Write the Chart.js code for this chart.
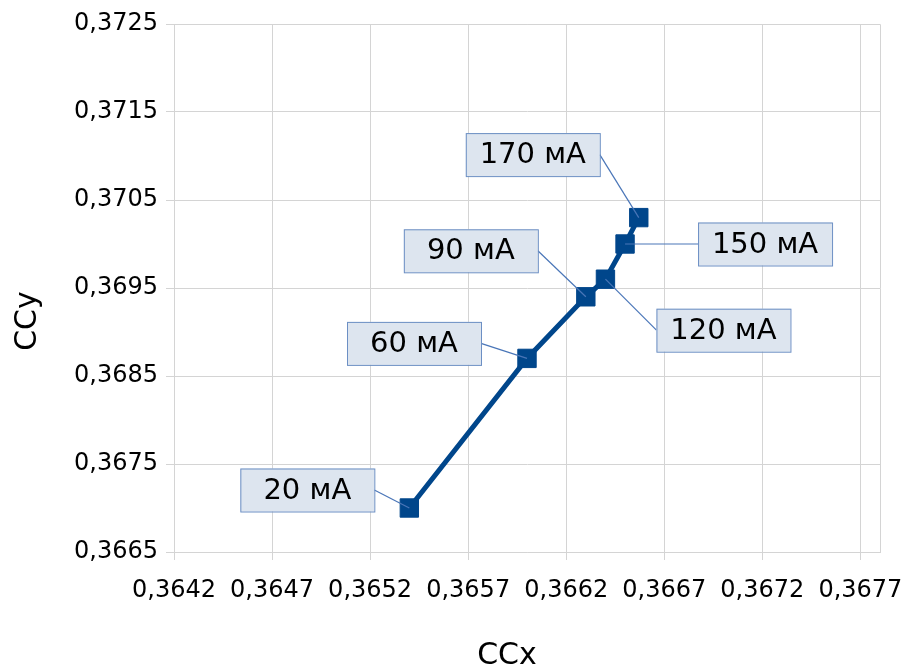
<!DOCTYPE html>
<html>
<head>
<meta charset="utf-8">
<script src="https://cdn.jsdelivr.net/npm/chart.js@4"></script>
<style>
  html, body { margin: 0; padding: 0; background: #ffffff; }
  #wrap { width: 907px; height: 669px; }
</style>
</head>
<body>
<div id="wrap"><canvas id="chart" width="907" height="669"></canvas></div>
<script>
// Données du graphique (coordonnées chromatiques selon le courant)
const currentLabels = ['20 мА', '60 мА', '90 мА', '120 мА', '150 мА', '170 мА'];
const ccxValues = [0.36540, 0.36600, 0.36630, 0.36640, 0.36650, 0.36657];
const ccyValues = [0.36700, 0.36870, 0.36940, 0.36960, 0.37000, 0.37030];
const xTickValues = [0.3642, 0.3647, 0.3652, 0.3657, 0.3662, 0.3667, 0.3672, 0.3677];
const yTickValues = [0.3665, 0.3675, 0.3685, 0.3695, 0.3705, 0.3715, 0.3725];

// Décalage des étiquettes par rapport au point (pixels)
const labelOffsets = [[-102, -18], [-113, -15], [-115, -46], [118, 51], [140, 0], [-106, -63]];

const FONT = "'DejaVu Sans', sans-serif";
const LINE_COLOR = '#00468b';
const GRID_COLOR = '#d4d4d4';

function fmt(v) {
    return v.toFixed(4).replace('.', ',');
}

// Cadre + titres des axes + étiquettes
const decorPlugin = {
    id: 'decor',
    beforeDatasetsDraw(chart) {
        const { ctx, chartArea: a } = chart;
        ctx.save();
        ctx.strokeStyle = GRID_COLOR;
        ctx.lineWidth = 1;
        ctx.beginPath();
        ctx.moveTo(a.left, a.top + 0.5);
        ctx.lineTo(a.right + 0.5, a.top + 0.5);
        ctx.lineTo(a.right + 0.5, a.bottom);
        ctx.stroke();
        ctx.restore();
    },
    afterDatasetsDraw(chart) {
        const { ctx, chartArea: a } = chart;
        const meta = chart.getDatasetMeta(0);
        ctx.save();

        // Titres des axes
        ctx.fillStyle = '#000000';
        ctx.font = '30px ' + FONT;
        ctx.textAlign = 'center';
        ctx.textBaseline = 'middle';
        ctx.fillText('CCx', a.left + 333, 656);
        ctx.save();
        ctx.translate(28, a.top + 297);
        ctx.rotate(-Math.PI / 2);
        ctx.fillText('CCy', 0, 0);
        ctx.restore();

        // Étiquettes avec lignes de rappel
        const w = 134, h = 43;
        ctx.font = '29px ' + FONT;
        meta.data.forEach((pt, i) => {
            const cx = pt.x + labelOffsets[i][0];
            const cy = pt.y + labelOffsets[i][1];
            const left = cx - w / 2, top = cy - h / 2;
            const ax = cx < pt.x ? left + w : left;
            ctx.strokeStyle = '#4a76b8';
            ctx.lineWidth = 1.2;
            ctx.beginPath();
            ctx.moveTo(ax, cy);
            ctx.lineTo(pt.x, pt.y);
            ctx.stroke();
            ctx.fillStyle = '#dde5ef';
            ctx.fillRect(left, top, w, h);
            ctx.lineWidth = 1;
            ctx.strokeStyle = '#6c8fc4';
            ctx.strokeRect(left + 0.5, top + 0.5, w, h);
            ctx.fillStyle = '#000000';
            ctx.fillText(currentLabels[i], cx, cy + 1);
        });
        ctx.restore();
    }
};

const ctx = document.getElementById('chart').getContext('2d');
new Chart(ctx, {
    type: 'scatter',
    data: {
        datasets: [{
            label: 'CC',
            data: ccxValues.map((x, i) => ({ x: x, y: ccyValues[i] })),
            showLine: true,
            borderColor: LINE_COLOR,
            backgroundColor: LINE_COLOR,
            borderWidth: 5,
            pointStyle: 'rect',
            pointRadius: 13,
            pointBorderWidth: 1,
            pointBorderColor: LINE_COLOR,
            pointBackgroundColor: LINE_COLOR
        }]
    },
    options: {
        responsive: false,
        animation: false,
        layout: {
            padding: { top: 24, right: 27, bottom: 0, left: 0 }
        },
        plugins: {
            legend: { display: false },
            tooltip: { enabled: false }
        },
        scales: {
            x: {
                type: 'linear',
                min: 0.3642,
                max: 0.3678,
                afterBuildTicks: scale => {
                    scale.ticks = xTickValues.map(v => ({ value: v }));
                },
                afterFit: scale => {
                    scale.height = 117;
                    scale.paddingLeft = 0;
                    scale.paddingRight = 0;
                },
                grid: { color: GRID_COLOR, tickLength: 8, tickColor: GRID_COLOR },
                border: { color: GRID_COLOR },
                ticks: {
                    color: '#000000',
                    font: { family: FONT, size: 24 },
                    maxRotation: 0,
                    autoSkip: false,
                    padding: 16,
                    callback: v => fmt(v)
                }
            },
            y: {
                type: 'linear',
                min: 0.3665,
                max: 0.3725,
                afterBuildTicks: scale => {
                    scale.ticks = yTickValues.map(v => ({ value: v }));
                },
                afterFit: scale => {
                    scale.width = 174;
                    scale.paddingTop = 0;
                    scale.paddingBottom = 0;
                },
                grid: { color: GRID_COLOR, tickLength: 8, tickColor: GRID_COLOR },
                border: { color: GRID_COLOR },
                ticks: {
                    color: '#000000',
                    font: { family: FONT, size: 24 },
                    autoSkip: false,
                    padding: 8,
                    callback: v => fmt(v)
                }
            }
        }
    },
    plugins: [decorPlugin]
});
</script>
</body>
</html>
